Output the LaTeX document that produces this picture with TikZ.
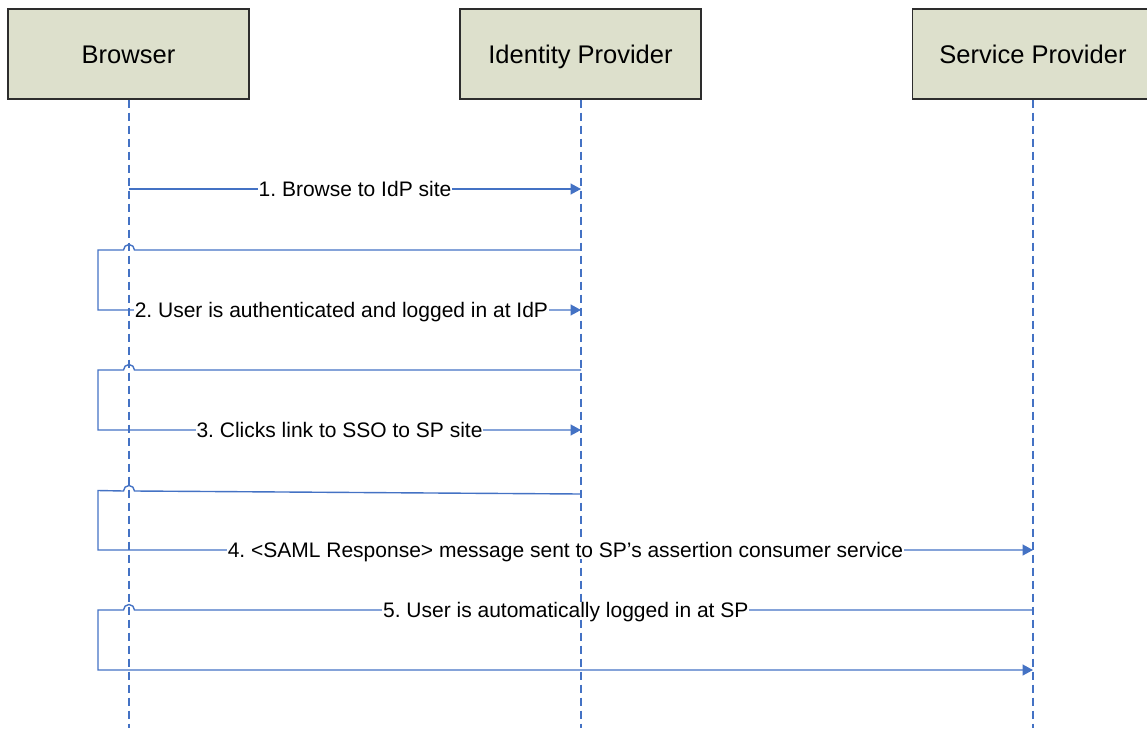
\documentclass[tikz,border=0pt]{standalone}
\usepackage{fontspec}
\setmainfont{Liberation Sans}
\usetikzlibrary{arrows.meta}
\definecolor{lineblue}{RGB}{68,114,196}
\definecolor{boxfill}{RGB}{221,224,204}
\definecolor{boxline}{RGB}{45,45,45}
\tikzset{
  actor/.style={draw=boxline, line width=1.1pt, fill=boxfill, minimum width=241pt, minimum height=90pt, inner sep=0pt, text height=18.3pt, text depth=0pt, font=\fontsize{25.5}{30}\selectfont},
  lifeline/.style={draw=lineblue, line width=1.2pt, dash pattern=on 8pt off 5pt},
  msg/.style={draw=lineblue, line width=1.4pt},
  msgarrow/.style={msg, -{Triangle[length=10.5pt,width=11pt]}},
  lbl/.style={fill=white, inner xsep=0.8pt, inner ysep=1pt, text height=15pt, text depth=0pt, text=black, font=\fontsize{21}{25}\selectfont}
}
\begin{document}
\frenchspacing
\begin{tikzpicture}[x=1pt,y=-1pt]
\useasboundingbox (0,0) rectangle (1147,728);
% actors
\node[actor] (br) at (128.5,54) {Browser};
\node[actor] (idp) at (580.5,54) {Identity Provider};
\node[actor] (sp) at (1033,54) {Service Provider};
% lifeline ends
\coordinate (brend) at (129,728);
\coordinate (idpend) at (581,728);
\coordinate (spend) at (1033,728);
\draw[lifeline] (br.south -| brend) -- (brend);
\draw[lifeline] (idp.south -| idpend) -- (idpend);
\draw[lifeline] (sp.south -| spend) -- (spend);
% message points
\coordinate (b1) at (129,189);
\coordinate (i1) at (581,189);
\coordinate (i2a) at (581,250);
\coordinate (i2) at (581,310);
\coordinate (i3a) at (581,370);
\coordinate (i3) at (581,430);
\coordinate (i4a) at (581,494);
\coordinate (s4) at (1033,550);
\coordinate (s5a) at (1033,610);
\coordinate (s5) at (1033,670);
% 1
\draw[msgarrow] (b1) -- node[lbl] {1. Browse to IdP site} (i1);
% 2
\draw[msgarrow] (i2a) -- (134.5,250) arc[start angle=0,end angle=-180,radius=5.5] -- (98,250) -- (98,310)
  -- node[lbl, pos=0.504] {2. User is authenticated and logged in at IdP} (i2);
% 3
\draw[msgarrow] (i3a) -- (134.5,370) arc[start angle=0,end angle=-180,radius=5.5] -- (98,370) -- (98,430)
  -- node[lbl] {3. Clicks link to SSO to SP site} (i3);
% 4
\draw[msgarrow] (i4a) -- (134.5,491) arc[start angle=0,end angle=-180,radius=5.5] -- (98,490.5) -- (98,550)
  -- node[lbl] {4. <SAML Response> message sent to SP’s assertion consumer service} (s4);
% 5
\draw[msgarrow] (s5a) -- node[lbl, pos=0.52] {5. User is automatically logged in at SP} (134.5,610)
  arc[start angle=0,end angle=-180,radius=5.5] -- (98,610) -- (98,670) -- (s5);
\end{tikzpicture}
\end{document}
